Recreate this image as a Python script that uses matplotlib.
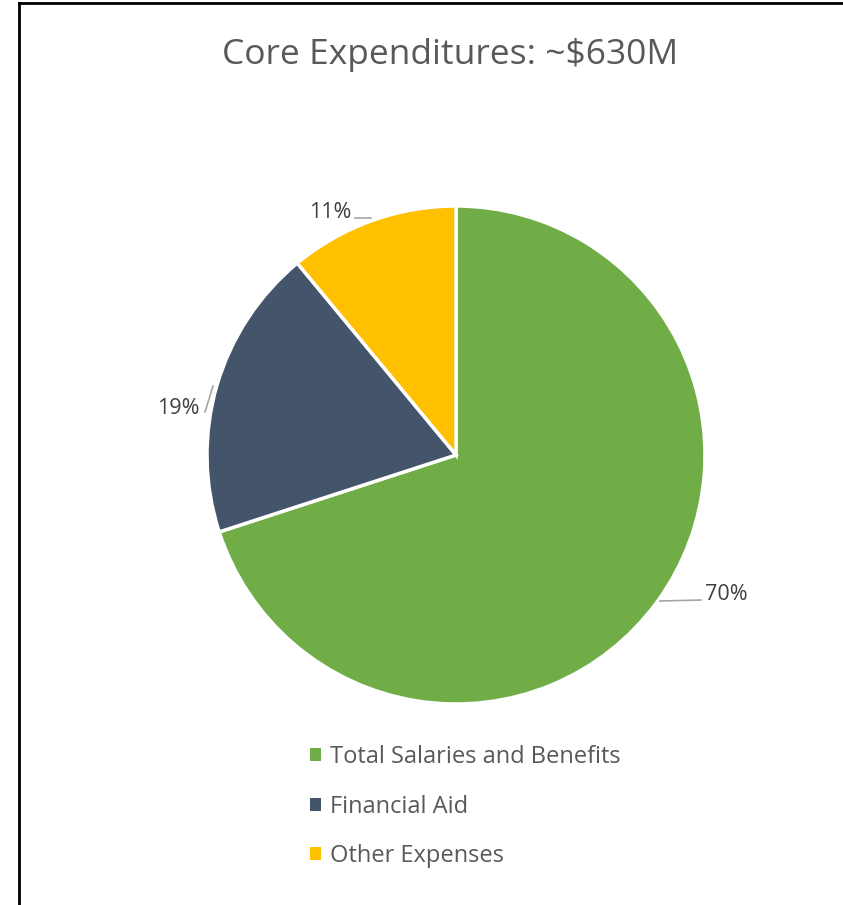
import matplotlib
matplotlib.use("Agg")
import matplotlib.pyplot as plt
from matplotlib.lines import Line2D
from matplotlib.patches import Patch
import numpy as np

plt.rcParams['font.family'] = ['Open Sans', 'DejaVu Sans']

title = "Core Expenditures: ~$630M"
categories = ["Total Salaries and Benefits", "Financial Aid", "Other Expenses"]
values = [70, 19, 11]
labels = ["70%", "19%", "11%"]
colors = ["#70AD47", "#44546A", "#FFC000"]

W, H = 843, 905
fig = plt.figure(figsize=(W / 100, H / 100), dpi=100)
fig.patch.set_facecolor("white")

# border lines (top and left)
fig.add_artist(Line2D([19 / W, 19 / W], [0, 1 - 3 / H], transform=fig.transFigure, color="black", lw=2.0))
fig.add_artist(Line2D([19 / W, 1], [1 - 3 / H, 1 - 3 / H], transform=fig.transFigure, color="black", lw=2.0))

# pie axes: center (456,455), radius 249 px
cx, cy, r = 456, 455, 249
ax = fig.add_axes([(cx - r) / W, 1 - (cy + r) / H, 2 * r / W, 2 * r / H])
wedges, _ = ax.pie(values, colors=colors, startangle=90, counterclock=False,
                   wedgeprops=dict(edgecolor="white", linewidth=2.5), radius=1)
ax.set_xlim(-1, 1)
ax.set_ylim(-1, 1)
ax.set_aspect("equal")
ax.axis("off")

# data labels with leader lines (pixel positions converted to axes data)
def px2d(x, y):
    return ((x - cx) / r, (cy - y) / r)

label_pos = [(726, 594), (178, 408), (330, 212)]
leaders = [[(660, 601), (701, 600)], [(205, 412), (213, 386)], [(355, 218), (371, 218)]]
for lab, (lx, ly), seg in zip(labels, label_pos, leaders):
    x, y = px2d(lx, ly)
    ax.text(x, y, lab, ha="center", va="center", fontsize=15.5, color="#404040", clip_on=False)
    (x0, y0), (x1, y1) = px2d(*seg[0]), px2d(*seg[1])
    ax.plot([x0, x1], [y0, y1], color="#A6A6A6", lw=1.2, clip_on=False)

fig.text(450 / W, 1 - 55 / H, title, ha="center", va="center", fontsize=25.5, color="#595959")

handles = [Patch(facecolor=c, edgecolor="none") for c in colors]
leg = fig.legend(handles, categories, loc="upper left", bbox_to_anchor=(289 / W, 1 - 724 / H),
                 frameon=False, fontsize=17, handlelength=0.45, handleheight=0.45,
                 handletextpad=0.4, labelspacing=1.08, labelcolor="#595959")

fig.savefig("out.png", dpi=100, facecolor="white")
